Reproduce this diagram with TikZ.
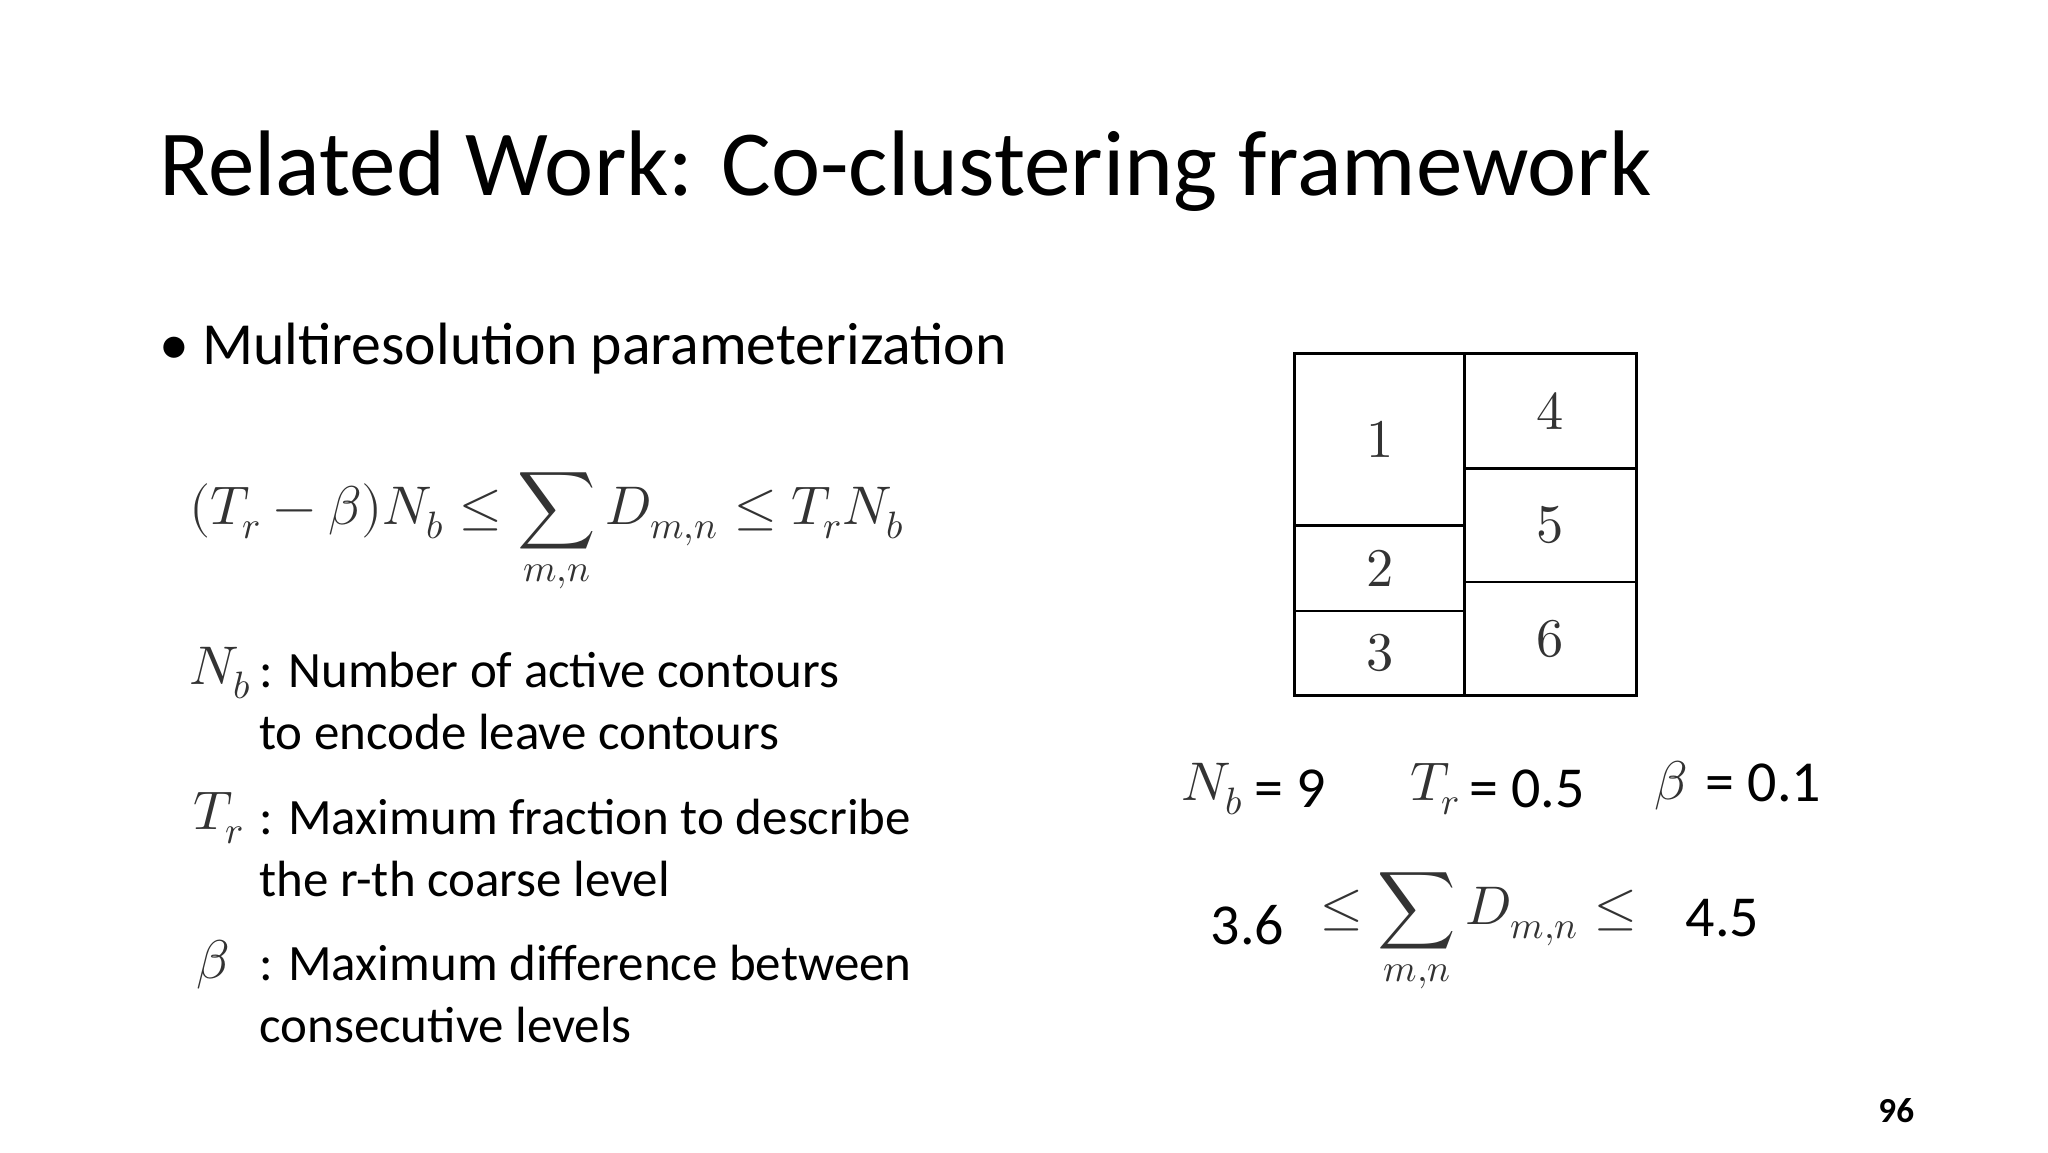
\documentclass[tikz,border=0pt]{standalone}
\usepackage{amsmath}
\usepackage{fontspec}
\setmainfont{Carlito}
\usepackage{unicode-math}
\setmathfont{Latin Modern Math}
\begin{document}
\begin{tikzpicture}[x=0.013196cm,y=-0.013196cm,
  txt/.style={anchor=west,inner sep=0pt,font=\fontsize{14.5}{18}\selectfont},
  num/.style={anchor=west,inner sep=0pt,font=\fontsize{16.5}{20}\selectfont},
  mth/.style={inner sep=0pt,text=black!80,font=\fontsize{15.5}{19}\selectfont},
  cell/.style={draw,line width=0.8pt}]
\useasboundingbox[fill=white] (0,0) rectangle (1552,873);
\node[anchor=west,inner sep=0pt,font=\fontsize{26.5}{32}\selectfont] (title) at (120,130) {Related Work: Co-clustering framework};
\node[anchor=west,inner sep=0pt,font=\fontsize{17}{20}\selectfont] (bullet) at (120,264) {• Multiresolution parameterization};
\node[mth,anchor=west] (f1) at (143,405) {$(T_r-\beta)N_b\le\displaystyle\sum_{m,n}D_{m,n}\le T_rN_b$};
\node[mth,anchor=west] (nb) at (143,510) {$N_b$};
\node[txt] (t1) at (196,508) {: Number of active contours};
\node[txt] (t1b) at (196,555) {to encode leave contours};
\node[mth,anchor=west] (tr) at (146,620) {$T_r$};
\node[txt] (t2) at (196,619) {: Maximum fraction to describe};
\node[txt] (t2b) at (196,666) {the r-th coarse level};
\node[mth,anchor=west] (be) at (148,731) {$\beta$};
\node[txt] (t3) at (196,730) {: Maximum difference between};
\node[txt] (t3b) at (196,777) {consecutive levels};
% grid
\draw[cell] (981,268) rectangle (1110,398) node[midway,mth] (c1) {$1$};
\draw[cell] (981,398) rectangle (1110,463) node[midway,mth] (c2) {$2$};
\draw[cell] (981,463) rectangle (1110,527) node[midway,mth] (c3) {$3$};
\draw[cell] (1110,268) rectangle (1240,355) node[midway,mth] (c4) {$4$};
\draw[cell] (1110,355) rectangle (1240,441) node[midway,mth] (c5) {$5$};
\draw[cell] (1110,441) rectangle (1240,527) node[midway,mth] (c6) {$6$};
\node[mth,anchor=west] (nb2) at (895,598) {$N_b$};
\node[num] (v1) at (950,598) {= 9};
\node[mth,anchor=west] (tr2) at (1068,598) {$T_r$};
\node[num] (v2) at (1113,598) {= 0.5};
\node[mth,anchor=west] (be2) at (1253,595) {$\beta$};
\node[num] (v3) at (1292,593) {= 0.1};
\node[num] (l36) at (917,701) {3.6};
\node[mth,anchor=west] (f2) at (1000,708) {$\le\displaystyle\sum_{m,n}D_{m,n}\le$};
\node[num] (l45) at (1277,696) {4.5};
\node[inner sep=0pt,font=\fontsize{10}{12}\selectfont\bfseries] (pg) at (1437,842) {96};
\end{tikzpicture}
\end{document}
